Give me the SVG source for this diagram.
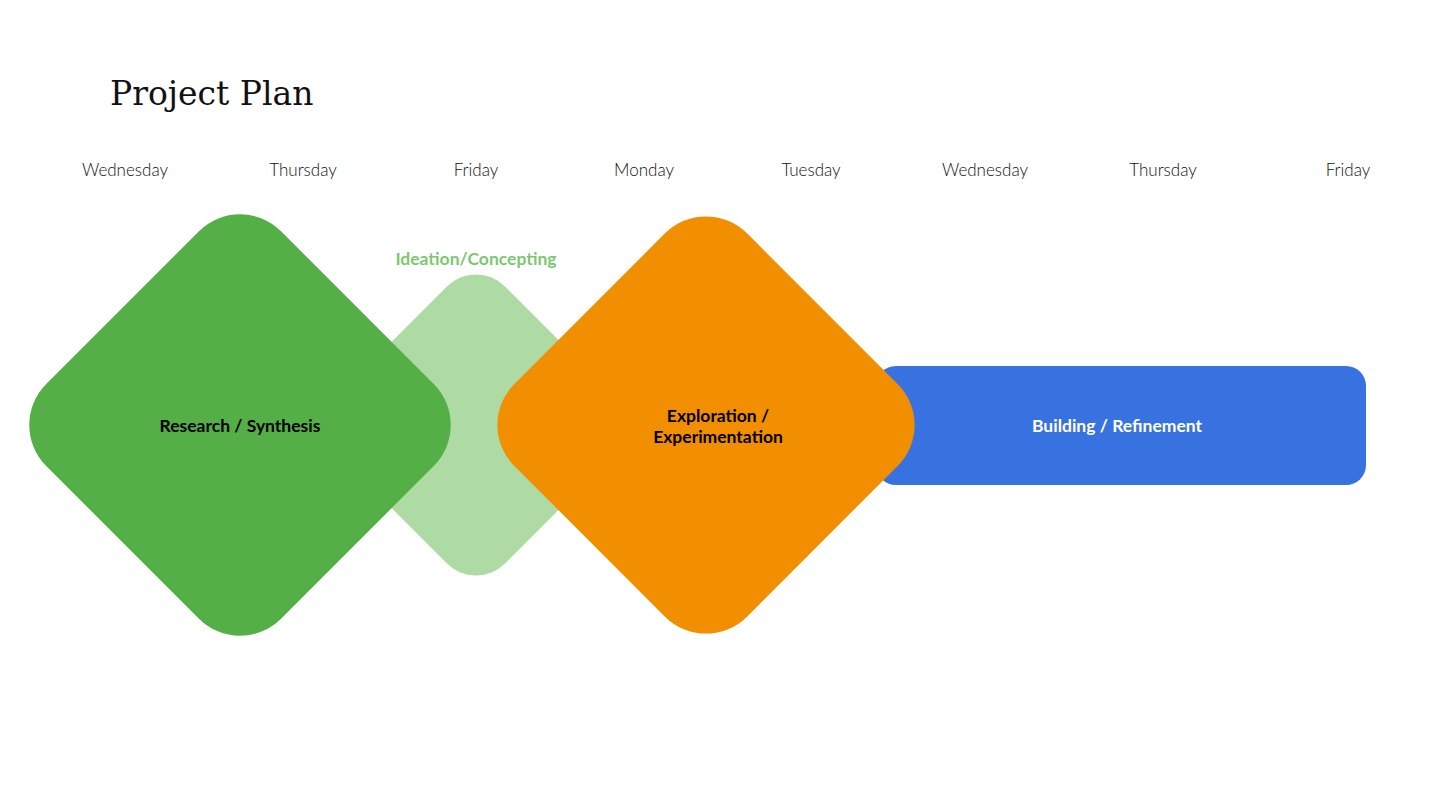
<svg xmlns="http://www.w3.org/2000/svg" width="1440" height="806" viewBox="0 0 1440 806">
<style>
.title{font-family:"DejaVu Serif","Liberation Serif",serif;font-size:33px;fill:#111}
.day{font-family:Lato,"Noto Sans",sans-serif;font-weight:300;font-size:17px;fill:#111;text-anchor:middle}
.lbl{font-family:Lato,"Noto Sans",sans-serif;font-weight:700;font-size:17.5px;text-anchor:middle}
</style>
<rect width="1440" height="806" fill="#ffffff"/>
<text class="title" x="110" y="105">Project Plan</text>
<g id="days">
<text class="day" x="125" y="176">Wednesday</text>
<text class="day" x="303" y="176">Thursday</text>
<text class="day" x="476" y="176">Friday</text>
<text class="day" x="644" y="176">Monday</text>
<text class="day" x="811" y="176">Tuesday</text>
<text class="day" x="985" y="176">Wednesday</text>
<text class="day" x="1163" y="176">Thursday</text>
<text class="day" x="1348" y="176">Friday</text>
</g>
<g id="ideation">
<rect x="357.5" y="306.5" width="237" height="237" rx="41" fill="#addba3" transform="rotate(45 476 425)"/>
<text class="lbl" x="476" y="265" fill="#7cc870">Ideation/Concepting</text>
</g>
<g id="research">
<rect x="74" y="259" width="332" height="332" rx="58" fill="#54af46" transform="rotate(45 240 425)"/>
<text class="lbl" x="240" y="432" fill="#000">Research / Synthesis</text>
</g>
<g id="building">
<rect x="876" y="366" width="490" height="119" rx="20" fill="#3871e0"/>
<text class="lbl" x="1117" y="432" fill="#fff">Building / Refinement</text>
</g>
<g id="exploration">
<rect x="541.5" y="260.5" width="329" height="329" rx="58" fill="#f28f00" transform="rotate(45 706 425)"/>
<text class="lbl" x="718" y="422" fill="#000">Exploration /</text>
<text class="lbl" x="718" y="443" fill="#000">Experimentation</text>
</g>
<g id="connectors"/>
</svg>
